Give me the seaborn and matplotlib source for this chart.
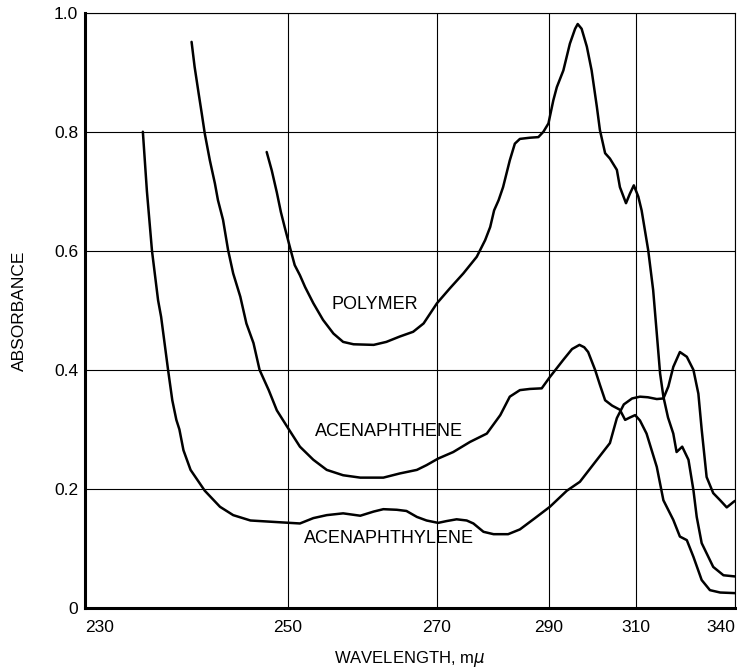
import numpy as np
import pandas as pd
import matplotlib
matplotlib.use("Agg")
import matplotlib.pyplot as plt
import seaborn as sns

# ---- data (wavelength in m\u03bc, absorbance) ----
acenaphthylene_wl = [235.7, 236.1, 236.6, 237.2, 237.5, 238.2, 238.6, 239.0, 239.3, 239.7,
                     240.4, 241.8, 243.3, 244.6, 246.3, 249.2, 251.6, 253.4, 255.2, 257.4,
                     259.7, 261.5, 262.8, 264.6, 265.9, 267.3, 268.6, 270.2, 271.7, 273.5,
                     275.3, 276.5, 278.3, 280.1, 282.7, 284.8, 287.5, 290.2, 294.1, 297.1,
                     300.6, 304.0, 305.6, 307.2, 309.1, 311.2, 313.6, 316.3, 318.3, 319.8,
                     321.3, 323.3, 325.4, 327.4, 328.9, 329.9, 331.4, 333.4, 335.5, 337.5,
                     339.5, 340.0]
acenaphthylene_abs = [0.800, 0.700, 0.600, 0.517, 0.489, 0.398, 0.349, 0.316, 0.300, 0.265,
                      0.232, 0.197, 0.170, 0.156, 0.147, 0.144, 0.142, 0.151, 0.156, 0.159,
                      0.155, 0.162, 0.166, 0.165, 0.163, 0.153, 0.147, 0.143, 0.146, 0.149,
                      0.147, 0.142, 0.128, 0.124, 0.124, 0.132, 0.151, 0.170, 0.197, 0.212,
                      0.245, 0.277, 0.319, 0.342, 0.352, 0.355, 0.354, 0.351, 0.352, 0.372,
                      0.405, 0.430, 0.422, 0.400, 0.360, 0.300, 0.220, 0.193, 0.181, 0.169,
                      0.178, 0.180]

acenaphthene_wl = [240.5, 240.8, 241.2, 241.5, 241.8, 242.3, 242.8, 243.1, 243.6, 244.1,
                   244.6, 245.3, 245.9, 246.6, 247.2, 248.1, 248.9, 249.9, 251.6, 253.4,
                   255.2, 257.4, 259.7, 262.8, 265.0, 267.3, 268.6, 270.2, 272.9, 275.9,
                   278.9, 281.3, 283.0, 284.8, 286.6, 288.7, 290.2, 293.3, 295.3, 297.0,
                   298.1, 299.0, 300.6, 301.7, 302.9, 304.5, 306.3, 307.5, 308.6, 309.8,
                   311.2, 313.2, 316.3, 318.3, 321.3, 323.3, 325.4, 327.4, 329.9, 332.4,
                   335.5, 340.0]
acenaphthene_abs = [0.951, 0.909, 0.864, 0.831, 0.797, 0.752, 0.713, 0.685, 0.652, 0.601,
                    0.562, 0.523, 0.478, 0.445, 0.400, 0.366, 0.332, 0.305, 0.271, 0.249,
                    0.232, 0.223, 0.219, 0.219, 0.226, 0.232, 0.240, 0.251, 0.262, 0.279,
                    0.293, 0.324, 0.355, 0.366, 0.368, 0.369, 0.388, 0.417, 0.435, 0.442,
                    0.438, 0.430, 0.400, 0.375, 0.349, 0.340, 0.333, 0.316, 0.320, 0.324,
                    0.315, 0.293, 0.237, 0.181, 0.148, 0.120, 0.114, 0.086, 0.047, 0.030,
                    0.026, 0.025]

polymer_wl = [247.9, 248.4, 248.9, 249.3, 249.7, 250.3, 250.9, 251.6, 252.3, 253.4,
              254.7, 256.1, 257.4, 258.8, 261.5, 263.2, 265.0, 266.8, 268.2, 270.0,
              272.3, 274.7, 277.1, 278.6, 279.5, 280.2, 281.0, 281.8, 283.0, 283.9,
              284.8, 286.6, 288.1, 289.0, 289.9, 291.0, 291.8, 293.3, 294.8, 296.0,
              296.6, 297.5, 298.7, 299.8, 301.0, 301.7, 302.9, 304.0, 305.6, 306.3,
              307.7, 308.6, 309.5, 310.7, 311.7, 313.7, 315.2, 316.3, 317.3, 318.3,
              319.7, 321.3, 322.3, 324.0, 325.9, 327.4, 328.4, 329.9, 333.4, 336.5, 340.0]
polymer_abs = [0.766, 0.735, 0.698, 0.665, 0.638, 0.604, 0.576, 0.559, 0.539, 0.512,
               0.484, 0.461, 0.447, 0.443, 0.442, 0.447, 0.456, 0.464, 0.478, 0.512,
               0.537, 0.562, 0.590, 0.618, 0.640, 0.668, 0.685, 0.707, 0.752, 0.780,
               0.788, 0.790, 0.791, 0.800, 0.814, 0.853, 0.875, 0.903, 0.948, 0.973,
               0.981, 0.973, 0.943, 0.903, 0.842, 0.803, 0.764, 0.755, 0.736, 0.707,
               0.680, 0.696, 0.710, 0.691, 0.668, 0.601, 0.534, 0.461, 0.394, 0.355,
               0.320, 0.293, 0.262, 0.271, 0.249, 0.198, 0.153, 0.109, 0.069, 0.055, 0.053]

x_ticks = [230, 250, 270, 290, 310, 340]
x_tick_labels = ["230", "250", "270", "290", "310", "340"]
y_ticks = [0, 0.2, 0.4, 0.6, 0.8, 1.0]
y_tick_labels = ["0", "0.2", "0.4", "0.6", "0.8", "1.0"]

curve_labels = ["POLYMER", "ACENAPHTHENE", "ACENAPHTHYLENE"]
label_wl = [261.7, 263.6, 263.6]
label_abs = [0.509, 0.296, 0.116]

# ---- chart's non-uniform wavelength axis (grid positions measured on the chart) ----
_scale_wl = [200, 230, 250, 270, 290, 310, 340, 400]
_scale_pos = [-304.5, 0, 203, 352, 464, 551, 650, 848]


def _fwd(x):
    return np.interp(x, _scale_wl, _scale_pos)


def _inv(p):
    return np.interp(p, _scale_pos, _scale_wl)


sns.set_theme(style="white")
plt.rcParams["font.family"] = ["Liberation Sans", "DejaVu Sans"]

fig = plt.figure(figsize=(7.37, 6.68), dpi=100)
ax = fig.add_axes([85 / 737, 1 - 608 / 668, 650 / 737, (608 - 12.7) / 668])
ax.set_xscale("function", functions=(_fwd, _inv))

frames = [
    pd.DataFrame({"wl": polymer_wl, "abs": polymer_abs}),
    pd.DataFrame({"wl": acenaphthene_wl, "abs": acenaphthene_abs}),
    pd.DataFrame({"wl": acenaphthylene_wl, "abs": acenaphthylene_abs}),
]
for df in frames:
    sns.lineplot(data=df, x="wl", y="abs", ax=ax, color="black", linewidth=1.8,
                 estimator=None, sort=False)

ax.set_xlim(230, 340)
ax.set_ylim(0, 1.0)
ax.set_xticks(x_ticks)
ax.set_xticklabels(x_tick_labels)
ax.set_yticks(y_ticks)
ax.set_yticklabels(y_tick_labels)
ax.tick_params(axis="both", length=0, labelsize=12.5, colors="black")
ax.tick_params(axis="x", pad=9)
ax.tick_params(axis="y", pad=5)
xl = ax.get_xticklabels()
xl[0].set_horizontalalignment("left")
xl[-1].set_horizontalalignment("right")

ax.grid(True, color="black", linewidth=0.8)
for side in ["left", "bottom"]:
    ax.spines[side].set_linewidth(2.2)
    ax.spines[side].set_color("black")
for side in ["top", "right"]:
    ax.spines[side].set_linewidth(0.8)
    ax.spines[side].set_color("black")

ax.set_xlabel("WAVELENGTH, m$\\mu$", fontsize=12, color="black")
ax.set_ylabel("ABSORBANCE", fontsize=12.5, color="black")
ax.xaxis.set_label_coords(0.5, -0.069)
ax.yaxis.set_label_coords(-0.089, 0.5)

for t, xw, ya in zip(curve_labels, label_wl, label_abs):
    ax.text(xw, ya, t, ha="center", va="center", fontsize=13, color="black")

fig.savefig("out.png", dpi=100)
